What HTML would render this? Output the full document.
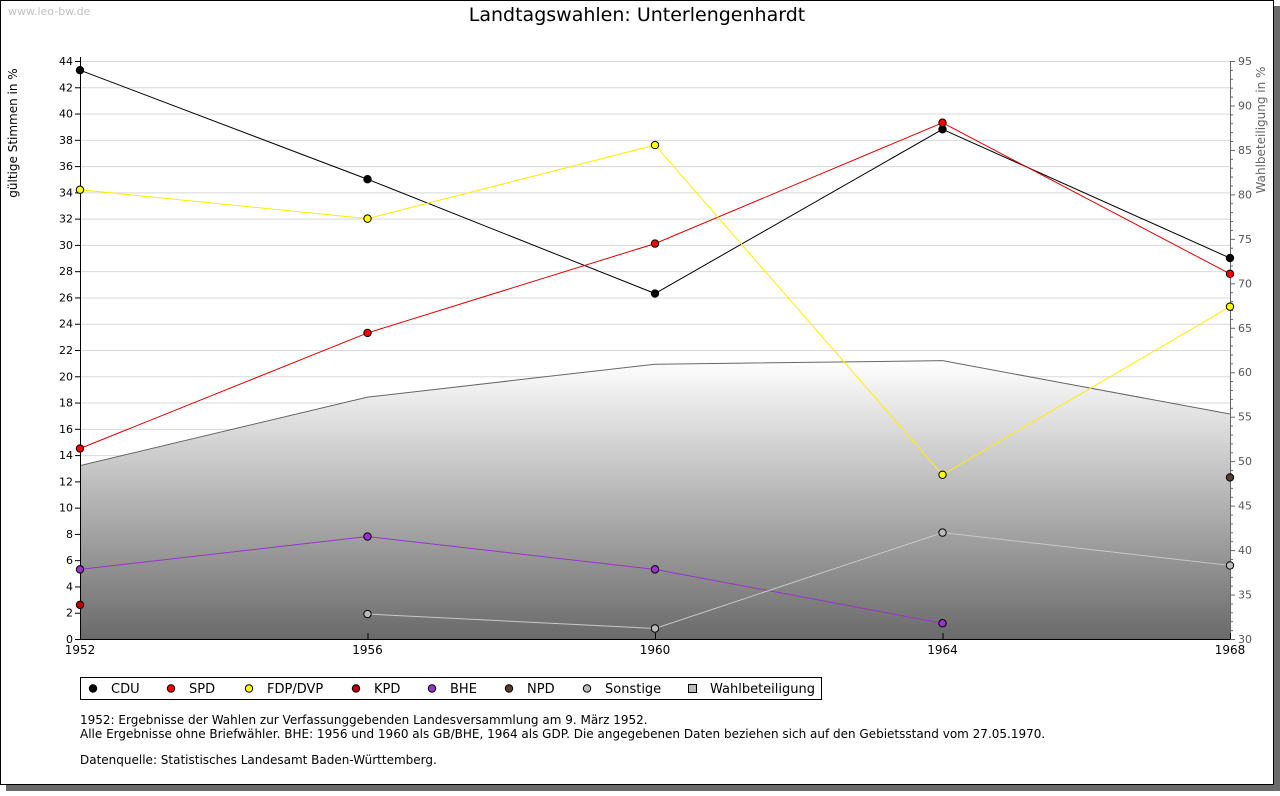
<!DOCTYPE html>
<html><head><meta charset="utf-8"><style>
body{margin:0;background:#fff;}
svg text{font-family:"DejaVu Sans","Liberation Sans",sans-serif;}
</style></head><body>
<svg id="chart" width="1280" height="791" xmlns="http://www.w3.org/2000/svg">
<defs><linearGradient id="areaGrad" x1="0" y1="0" x2="0" y2="1"><stop offset="0" stop-color="#ffffff"/><stop offset="1" stop-color="#6a6a6a"/></linearGradient></defs>
<rect x="6" y="6" width="1274" height="785" fill="#6b6b6b"/>
<rect x="0.5" y="0.5" width="1273" height="784" fill="#fff" stroke="#000"/>
<text x="8" y="15" font-size="11" fill="#c0c0c0">www.leo-bw.de</text>
<text x="637" y="21" font-size="19" text-anchor="middle">Landtagswahlen: Unterlengenhardt</text>
<text transform="translate(17,133) rotate(-90)" font-size="12" text-anchor="middle">gültige Stimmen in %</text>
<text transform="translate(1265,130) rotate(-90)" font-size="12" fill="#666" text-anchor="middle">Wahlbeteiligung in %</text>
<g id="grid"></g><g id="area"></g><g id="axes"></g><g id="series"></g>
<g>
<rect x="80.5" y="677.5" width="741" height="22" fill="#fff" stroke="#000"/>
<g id="legend"></g>
</g>
<text x="80" y="724" font-size="12">1952: Ergebnisse der Wahlen zur Verfassunggebenden Landesversammlung am 9. März 1952.</text>
<text x="80" y="738" font-size="12">Alle Ergebnisse ohne Briefwähler. BHE: 1956 und 1960 als GB/BHE, 1964 als GDP. Die angegebenen Daten beziehen sich auf den Gebietsstand vom 27.05.1970.</text>
<text x="80" y="764" font-size="12">Datenquelle: Statistisches Landesamt Baden-Württemberg.</text>
</svg>
<script>
const years=[1952,1956,1960,1964,1968];
const leftTicks=[0,2,4,6,8,10,12,14,16,18,20,22,24,26,28,30,32,34,36,38,40,42,44];
const rightTicks=[30,35,40,45,50,55,60,65,70,75,80,85,90,95];
const cdu=[43.3,35.0,26.3,38.8,29.0];
const spd=[14.5,23.3,30.1,39.3,27.8];
const fdp=[34.2,32.0,37.6,12.5,25.3];
const kpd=[2.6,null,null,null,null];
const bhe=[5.3,7.8,5.3,1.2,null];
const npd=[null,null,null,null,12.3];
const sonstige=[null,1.9,0.8,8.1,5.6];
const turnout=[49.5,57.2,60.9,61.3,55.3];
const NS="http://www.w3.org/2000/svg";
const X0=80,X1=1230,YB=639,YT=61;
const x=y=>X0+(y-1952)/(1968-1952)*(X1-X0);
const yl=v=>YB-v/44*(YB-YT);
const yr=v=>YB-(v-30)/65*(YB-YT);
function mk(t,a,p){const e=document.createElementNS(NS,t);for(const k in a)e.setAttribute(k,a[k]);p.appendChild(e);return e;}
const grid=document.getElementById('grid'),axes=document.getElementById('axes'),area=document.getElementById('area'),ser=document.getElementById('series'),leg=document.getElementById('legend');
leftTicks.forEach(v=>{
 const g=mk('line',{x1:X0,x2:X1,y1:yl(v)+0.5,y2:yl(v)+0.5,stroke:'#d8d8d8'},grid);
 
 
 mk('line',{x1:X0-5,x2:X0,y1:yl(v)+0.5,y2:yl(v)+0.5,stroke:'#000'},axes);
 const t=mk('text',{x:X0-7,y:yl(v)+4,'font-size':11,'text-anchor':'end'},axes);t.textContent=v;
 
 
});
for(let v=30;v<=95;v++){mk('line',{x1:X1,x2:X1+(v%5==0?5:3),y1:yr(v)+0.5,y2:yr(v)+0.5,stroke:'#666'},axes);}
rightTicks.forEach(v=>{const t=mk('text',{x:X1+8,y:yr(v)+4,'font-size':11,fill:'#555'},axes);t.textContent=v;
 
 });
let d='M'+x(years[0])+','+YB;years.forEach((yy,i)=>d+=' L'+x(yy)+','+yr(turnout[i]));d+=' L'+x(years[4])+','+YB+' Z';
const a=mk('path',{d:d,fill:'url(#areaGrad)'},area);


let d2='';years.forEach((yy,i)=>d2+=(i?' L':'M')+x(yy)+','+yr(turnout[i]));
mk('path',{d:d2,fill:'none',stroke:'#666'},area);
mk('line',{x1:X0+0.5,x2:X0+0.5,y1:YT-4,y2:YB,stroke:'#000'},axes);
mk('line',{x1:X1+0.5,x2:X1+0.5,y1:YT,y2:YB,stroke:'#666'},axes);
mk('line',{x1:X0,x2:X1,y1:YB+0.5,y2:YB+0.5,stroke:'#000'},axes);
years.forEach(yy=>{mk('line',{x1:x(yy)+0.5,x2:x(yy)+0.5,y1:YB,y2:YB-6,stroke:'#000'},axes);
 const t=mk('text',{x:x(yy),y:YB+15,'font-size':12,'text-anchor':'middle'},axes);t.textContent=yy;
 
 });
const series=[['CDU',cdu,'#000','#000'],['SPD',spd,'#ff0000','#e00000'],['FDP/DVP',fdp,'#ffff00','#ffee00'],['KPD',kpd,'#c00000','#c00000'],['BHE',bhe,'#9933cc','#9933cc'],['NPD',npd,'#5a3a2a','#5a3a2a'],['Sonstige',sonstige,'#bbbbbb','#c8c8c8']];
series.forEach(([name,vals,fill,line])=>{
 const g=mk('g',{},ser);
 
 
 let p='',prev=false;
 vals.forEach((v,i)=>{if(v==null){prev=false;return;}p+=(prev?' L':' M')+x(years[i])+','+yl(v);prev=true;});
 mk('path',{d:p,fill:'none',stroke:line},g);
 vals.forEach((v,i)=>{if(v==null)return;const c=mk('circle',{cx:x(years[i]),cy:yl(v),r:3.7,fill:fill,stroke:'#000'},g);
  
  });
});
const legX=[93,171,249,356,432,509,587];
series.forEach(([name,vals,fill],i)=>{
 const g=mk('g',{},leg);
 
 
 mk('circle',{cx:legX[i],cy:688.5,r:3.7,fill:fill,stroke:'#000'},g);
 const t=mk('text',{x:legX[i]+18,y:693,'font-size':13},g);t.textContent=name;
});
const g=mk('g',{},leg);


mk('rect',{x:688.5,y:684.5,width:8,height:8,fill:'#bbb',stroke:'#000'},g);
const t=mk('text',{x:710,y:693,'font-size':13},g);t.textContent='Wahlbeteiligung';
</script>
</body></html>
